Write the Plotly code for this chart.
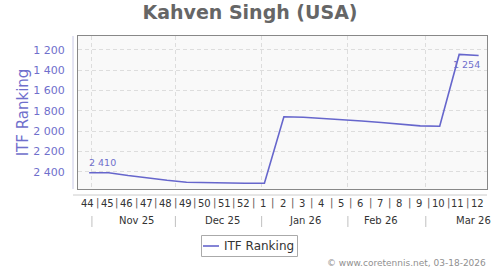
import plotly.graph_objects as go
import pandas as pd

# ---- data ----
dates = ["2025-10-31", "2025-11-07", "2025-11-14", "2025-11-21", "2025-11-28",
         "2025-12-05", "2025-12-12", "2025-12-19", "2025-12-26", "2026-01-02",
         "2026-01-09", "2026-01-16", "2026-01-23", "2026-01-30", "2026-02-06",
         "2026-02-13", "2026-02-20", "2026-02-27", "2026-03-06", "2026-03-13",
         "2026-03-20"]
ranking = [2410, 2410, 2438, 2465, 2485, 2504, 2509, 2512, 2514, 2515,
           1858, 1864, 1875, 1883, 1900, 1915, 1932, 1948, 1952, 1244, 1254]
week_labels = ["44", "45", "46", "47", "48", "49", "50", "51", "52", "1", "2",
               "3", "4", "5", "6", "7", "8", "9", "10", "11", "12"]
week_starts = ["2025-10-27", "2025-11-03", "2025-11-10", "2025-11-17", "2025-11-24",
               "2025-12-01", "2025-12-08", "2025-12-15", "2025-12-22", "2025-12-29",
               "2026-01-05", "2026-01-12", "2026-01-19", "2026-01-26", "2026-02-02",
               "2026-02-09", "2026-02-16", "2026-02-23", "2026-03-02", "2026-03-09",
               "2026-03-16", "2026-03-23"]
month_labels = ["Nov 25", "Dec 25", "Jan 26", "Feb 26", "Mar 26"]
month_label_pos = ["2025-11-17", "2025-12-18", "2026-01-16 12:00", "2026-02-13", "2026-03-18"]
month_starts = ["2025-11-01", "2025-12-01", "2026-01-01", "2026-02-01", "2026-03-01"]
y_ticks = [1200, 1400, 1600, 1800, 2000, 2200, 2400]

title = "Kahven Singh (USA)"
series_name = "ITF Ranking"
credit = "© www.coretennis.net, 03-18-2026"

# ---- style ----
FONT = "DejaVu Sans"
LINE_COL = "#6666cc"
LABEL_COL = "#6f6fcc"
W, H = 500, 270
ML, MR, MT, MB = 78, 13, 36, 81
PW, PH = W - ML - MR, H - MT - MB


def px_x(x):
    return (x - ML) / PW


def px_y(y):
    return (MT + PH - y) / PH


def fmt(v):
    return f"{v:,}".replace(",", " ")


fig = go.Figure()
fig.add_trace(go.Scatter(
    x=dates, y=ranking, mode="lines", name=series_name,
    line=dict(color=LINE_COL, width=1.6), showlegend=False,
))

annotations = []
# data labels: first and last point
annotations.append(dict(x=dates[0], y=ranking[0], xref="x", yref="y", text=fmt(ranking[0]),
                        showarrow=False, xanchor="left", yanchor="bottom", yshift=3,
                        xshift=-2,
                        font=dict(family=FONT, size=9.5, color=LABEL_COL)))
annotations.append(dict(x=dates[-1], y=ranking[-1], xref="x", yref="y", text=fmt(ranking[-1]),
                        showarrow=False, xanchor="right", yanchor="top", yshift=-2,
                        xshift=3,
                        font=dict(family=FONT, size=9.5, color=LABEL_COL)))

ws = pd.to_datetime(week_starts)
for i, lab in enumerate(week_labels):
    mid = ws[i] + (ws[i + 1] - ws[i]) / 2
    annotations.append(dict(x=mid, y=0, xref="x", yref="paper", text=lab,
                            showarrow=False, yanchor="middle", yshift=-14,
                            font=dict(family=FONT, size=10, color="#333333")))
for d in ws[1:-1]:
    annotations.append(dict(x=d, y=0, xref="x", yref="paper", text="|",
                            showarrow=False, yanchor="middle", yshift=-14,
                            font=dict(family=FONT, size=10, color="#555555")))
for lab, pos in zip(month_labels, month_label_pos):
    annotations.append(dict(x=pos, y=0, xref="x", yref="paper", text=lab,
                            showarrow=False, yanchor="middle", yshift=-31,
                            font=dict(family=FONT, size=10, color="#333333")))
annotations.append(dict(x=px_x(488), y=px_y(263), xref="paper", yref="paper",
                        text=credit, showarrow=False, xanchor="right", yanchor="middle",
                        font=dict(family=FONT, size=9, color="#909090")))
# legend text
annotations.append(dict(x=px_x(222), y=px_y(246), xref="paper", yref="paper",
                        text=series_name, showarrow=False, xanchor="left", yanchor="middle",
                        font=dict(family=FONT, size=12, color="#333333")))

shapes = []
for d in month_starts:
    shapes.append(dict(type="line", xref="x", yref="paper", x0=d, x1=d,
                       y0=px_y(216), y1=px_y(227),
                       line=dict(color="#c0c0c0", width=1)))
# offset y-axis line
shapes.append(dict(type="line", xref="paper", yref="paper",
                   x0=px_x(73), x1=px_x(73), y0=0, y1=1,
                   line=dict(color="#c8c8e6", width=1)))
# offset x-axis line
shapes.append(dict(type="line", xref="paper", yref="paper",
                   x0=px_x(73), x1=1, y0=px_y(195), y1=px_y(195),
                   line=dict(color="#cccccc", width=1)))
# legend box and symbol
shapes.append(dict(type="rect", xref="paper", yref="paper",
                   x0=px_x(201.5), x1=px_x(297.5), y0=px_y(256.5), y1=px_y(235.5),
                   line=dict(color="#aaaaaa", width=1), fillcolor="white"))
shapes.append(dict(type="line", xref="paper", yref="paper",
                   x0=px_x(203), x1=px_x(219), y0=px_y(246), y1=px_y(246),
                   line=dict(color=LINE_COL, width=1.6)))

fig.update_layout(
    width=W, height=H,
    margin=dict(l=ML, r=MR, t=MT, b=MB),
    paper_bgcolor="white", plot_bgcolor="#f9f9f9",
    font=dict(family=FONT),
    showlegend=False,
    title=dict(text=title, x=0.5, xanchor="center", xref="container",
               y=1 - 12 / H, yref="container", yanchor="middle",
               font=dict(family=FONT, size=19, color="#666666", weight="bold")),
    annotations=annotations, shapes=shapes,
)
fig.update_xaxes(type="date", range=[week_starts[0], week_starts[-1]],
                 tickvals=month_starts, showticklabels=False, ticks="",
                 showgrid=True, gridcolor="#dddddd", griddash="4px,3px", gridwidth=1,
                 showline=True, mirror=True, linecolor="#888888", linewidth=1,
                 zeroline=False)
fig.update_yaxes(range=[2571, 1062], tickvals=y_ticks, ticktext=[fmt(v) for v in y_ticks],
                 showgrid=True, gridcolor="#dddddd", griddash="4px,3px", gridwidth=1,
                 showline=True, mirror=True, linecolor="#888888", linewidth=1,
                 ticks="", ticklabelstandoff=10,
                 tickfont=dict(family=FONT, size=11, color=LABEL_COL),
                 title=dict(text=series_name, standoff=1,
                            font=dict(family=FONT, size=15, color=LABEL_COL)),
                 zeroline=False)

fig.write_html("out.html")
